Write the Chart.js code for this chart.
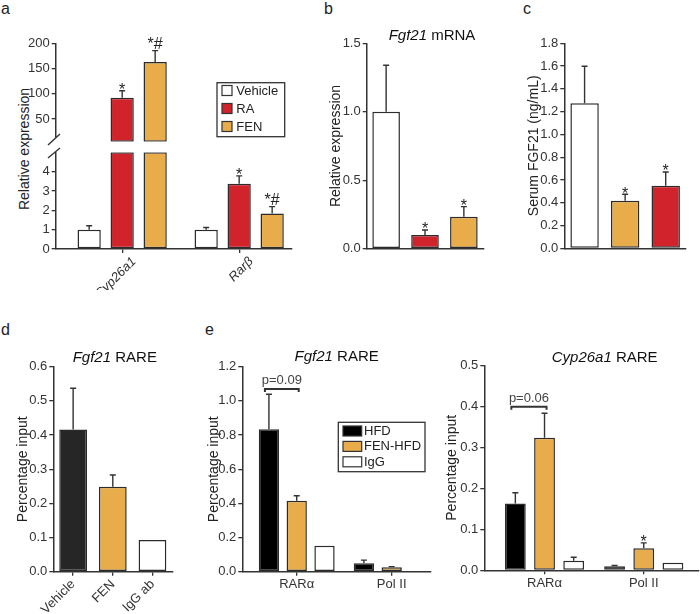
<!DOCTYPE html>
<html>
<head>
<meta charset="utf-8">
<script src="https://cdn.jsdelivr.net/npm/chart.js@4.4.1/dist/chart.umd.min.js"></script>
<style>
html, body { margin: 0; padding: 0; background: #fff; }
#fig { position: relative; width: 700px; height: 614px; overflow: hidden; font-family: 'Liberation Sans', Arial, sans-serif; color: #222; }
#fig canvas { position: absolute; }
.lbl { position: absolute; font-size: 16px; line-height: 16px; }
.ytitle { position: absolute; width: 200px; height: 16px; line-height: 16px; font-size: 14px; text-align: center; transform: rotate(-90deg); white-space: nowrap; }
</style>
</head>
<body>
<div id="fig">
  <div class="lbl" style="left:1px;top:1px">a</div>
  <div class="lbl" style="left:324px;top:1px">b</div>
  <div class="lbl" style="left:523px;top:1px">c</div>
  <div class="lbl" style="left:1px;top:322px">d</div>
  <div class="lbl" style="left:205px;top:322px">e</div>
  <div class="ytitle" style="left:-76px;top:141px">Relative expression</div>
</div>
<script>
// DATA
// a: relative expression (broken axis)
const aGenes = ['Cyp26a1', 'Rarβ'];
const aGroups = ['Vehicle', 'RA', 'FEN'];
const aVehicle = [1.0, 1.0];
const aVehicleErr = [0.2, 0.11];
const aRA = [92, 3.38];
const aRAErr = [14, 0.4];
const aFEN = [163, 1.83];
const aFENErr = [22.5, 0.36];
const aRASig = ['*', '*'];
const aFENSig = ['*#', '*#'];
const aUpperTicks = [50, 100, 150, 200];
const aLowerTicks = [0, 1, 2, 3, 4];
const aBreak = 5;

// b: Fgf21 mRNA
const bGroups = ['Vehicle', 'RA', 'FEN'];
const bMRNA = [1.0, 0.10, 0.234];
const bErr = [0.34, 0.037, 0.073];
const bSig = ['', '*', '*'];
const bTicks = [0, 0.5, 1.0, 1.5];

// c: serum FGF21
const cGroups = ['Vehicle', 'FEN', 'RA'];
const cSerum = [1.273, 0.418, 0.55];
const cErr = [0.325, 0.056, 0.12];
const cSig = ['', '*', '*'];
const cTicks = [0, 0.2, 0.4, 0.6, 0.8, 1.0, 1.2, 1.4, 1.6, 1.8];

// d: Fgf21 RARE ChIP
const dGroups = ['Vehicle', 'FEN', 'IgG ab'];
const dInput = [0.416, 0.249, 0.093];
const dErr = [0.121, 0.034, 0];
const dTicks = [0, 0.1, 0.2, 0.3, 0.4, 0.5, 0.6];

// e: RARE ChIP, HFD vs FEN-HFD
const eTargets = ['RARα', 'Pol II'];
const eSeries = ['HFD', 'FEN-HFD', 'IgG'];
const eFgfHFD = [0.834, 0.049];
const eFgfHFDErr = [0.205, 0.019];
const eFgfFEN = [0.416, 0.026];
const eFgfFENErr = [0.029, 0.004];
const eFgfIgG = [0.152, null];
const eFgfTicks = [0, 0.2, 0.4, 0.6, 0.8, 1.0, 1.2];
const eCypHFD = [0.163, 0.0098];
const eCypHFDErr = [0.026, 0.002];
const eCypFEN = [0.323, 0.054];
const eCypFENErr = [0.060, 0.013];
const eCypFENSig = ['', '*'];
const eCypIgG = [0.0235, 0.0185];
const eCypIgGErr = [0.0085, 0];
const eCypTicks = [0, 0.1, 0.2, 0.3, 0.4, 0.5];

// STYLE
const RED = '#d0232b', ORANGE = '#e8ad4a', BLACK = '#000000', DARK = '#262626', WHITE = '#ffffff';
const EDGE = '#2b2b2b', INK = '#333333';
const FONT = "'Liberation Sans', Arial, sans-serif";

Chart.defaults.font.family = FONT;
Chart.defaults.font.size = 13;
Chart.defaults.color = INK;
Chart.defaults.animation = false;
Chart.defaults.plugins.legend.display = false;
Chart.defaults.plugins.tooltip.enabled = false;

// PLUGINS
const errorBars = {
  id: 'errorBars',
  afterDatasetsDraw(chart) {
    const ctx = chart.ctx, ys = chart.scales.y;
    chart.data.datasets.forEach((ds, i) => {
      if (!ds.vals) return;
      const meta = chart.getDatasetMeta(i);
      ds.vals.forEach((v, j) => {
        if (v == null || v < ys.min || v > ys.max) return;
        const el = meta.data[j];
        if (!el) return;
        const x = el.x, y0 = ys.getPixelForValue(v);
        const e = ds.err ? ds.err[j] : 0;
        let top = y0;
        ctx.save();
        ctx.strokeStyle = INK;
        ctx.lineWidth = 1.4;
        if (e > 0) {
          top = ys.getPixelForValue(v + e);
          ctx.beginPath();
          ctx.moveTo(x, y0); ctx.lineTo(x, top);
          ctx.moveTo(x - 3, top); ctx.lineTo(x + 3, top);
          ctx.stroke();
        }
        const s = ds.sig ? ds.sig[j] : '';
        if (s) {
          ctx.fillStyle = '#222';
          ctx.font = '16px ' + FONT;
          ctx.textAlign = 'center';
          ctx.textBaseline = 'alphabetic';
          ctx.fillText(s, x, top + (s.includes('#') ? -2 : 4.5));
        }
        ctx.restore();
      });
    });
  }
};

const boxLegend = {
  id: 'boxLegend',
  afterDraw(chart, args, o) {
    if (!o.width) return;
    const ctx = chart.ctx;
    ctx.save();
    ctx.strokeStyle = INK;
    ctx.lineWidth = 1.3;
    ctx.strokeRect(o.left, o.top, o.width, o.height);
    ctx.font = '13px ' + FONT;
    ctx.textBaseline = 'middle';
    ctx.textAlign = 'left';
    chart.data.datasets.forEach((ds, i) => {
      const cy = o.top + o.rowTop + i * o.rowGap;
      ctx.fillStyle = ds.backgroundColor;
      ctx.fillRect(o.left + o.swX, cy - o.swH / 2, o.swW, o.swH);
      ctx.lineWidth = 1.2;
      ctx.strokeRect(o.left + o.swX, cy - o.swH / 2, o.swW, o.swH);
      ctx.fillStyle = '#222';
      ctx.fillText(ds.label, o.left + o.textX, cy + 0.5);
    });
    ctx.restore();
  }
};

const richTitle = {
  id: 'richTitle',
  afterDraw(chart, args, o) {
    if (!o.parts) return;
    const ctx = chart.ctx, a = chart.chartArea;
    ctx.save();
    const fonts = o.parts.map(p => (p[1] ? 'italic ' : '') + '15px ' + FONT);
    const widths = o.parts.map((p, i) => { ctx.font = fonts[i]; return ctx.measureText(p[0]).width; });
    const total = widths.reduce((s, w) => s + w, 0);
    let x = (a.left + a.right) / 2 + o.dx - total / 2;
    const y = a.top - o.dy;
    ctx.fillStyle = '#111';
    ctx.textBaseline = 'middle';
    ctx.textAlign = 'left';
    o.parts.forEach((p, i) => {
      ctx.font = fonts[i];
      ctx.fillText(p[0], x, y);
      x += widths[i];
    });
    ctx.restore();
  }
};

const bracket = {
  id: 'bracket',
  afterDraw(chart, args, o) {
    if (!o.label) return;
    const ctx = chart.ctx;
    const b1 = chart.getDatasetMeta(o.from).data[o.index];
    const b2 = chart.getDatasetMeta(o.to).data[o.index];
    const y = chart.scales.y.getPixelForValue(o.value);
    const x1 = b1.x - 4, x2 = b2.x + 2;
    ctx.save();
    ctx.strokeStyle = INK;
    ctx.lineWidth = 2;
    ctx.beginPath();
    ctx.moveTo(x1, y + 3); ctx.lineTo(x1, y); ctx.lineTo(x2, y); ctx.lineTo(x2, y + 3);
    ctx.stroke();
    ctx.fillStyle = '#444';
    ctx.font = '13px ' + FONT;
    ctx.textAlign = 'center';
    ctx.textBaseline = 'alphabetic';
    ctx.fillText(o.label, (x1 + x2) / 2, y - 5);
    ctx.restore();
  }
};

const axisBreak = {
  id: 'axisBreak',
  afterDraw(chart, args, o) {
    if (!o.mode) return;
    const ctx = chart.ctx, a = chart.chartArea;
    ctx.save();
    if (o.mode === 'upper') {
      // cut the axis line short of the bottom of the upper segment
      ctx.fillStyle = WHITE;
      ctx.fillRect(a.left - 2, a.bottom - 4, 4, 8);
    } else {
      const x = a.left, t = a.top;
      ctx.strokeStyle = INK;
      ctx.lineWidth = 1.4;
      ctx.beginPath();
      ctx.moveTo(x - 7.7, t - 7.3); ctx.lineTo(x + 4.3, t - 18.3);
      ctx.moveTo(x - 7.7, t + 5.7); ctx.lineTo(x + 4.3, t - 4.3);
      ctx.stroke();
    }
    ctx.restore();
  }
};

Chart.register(errorBars, boxLegend, richTitle, bracket, axisBreak);

// HELPERS
function yScale(min, max, ticks, dec, width, title, titlePad) {
  return {
    type: 'linear', min: min, max: max,
    afterBuildTicks: s => { s.ticks = ticks.map(v => ({ value: v })); },
    afterFit: s => { s.width = width; },
    border: { color: INK, width: 1.5 },
    grid: { drawOnChartArea: false, color: INK, lineWidth: 1.3, tickLength: 4 },
    ticks: { color: INK, padding: 2, font: { size: 13 }, callback: v => Number(v).toFixed(dec) },
    title: title
      ? { display: true, text: title, color: '#222', font: { size: 14 }, padding: { top: titlePad, bottom: 0 } }
      : { display: false }
  };
}

function xCat(height, showLabels, rot) {
  return {
    type: 'category', offset: true,
    afterFit: s => { s.height = height; },
    border: { color: INK, width: 1.5 },
    grid: { drawOnChartArea: false, offset: false, color: INK, lineWidth: 1.3, tickLength: 4, drawTicks: showLabels },
    ticks: { display: showLabels, color: INK, font: { size: 13 }, minRotation: rot, maxRotation: rot, padding: 1, autoSkip: false }
  };
}

function xLin(labels, min, max, height, rot, italic, show, shift) {
  return {
    type: 'linear', min: min, max: max, offset: false, display: show !== false,
    afterBuildTicks: s => { s.ticks = labels.map((_, i) => ({ value: i })); },
    afterFit: s => { s.height = height; },
    border: { color: INK, width: 1.5 },
    grid: { drawOnChartArea: false, offset: false, color: INK, lineWidth: 1.3, tickLength: 4 },
    ticks: {
      color: INK, font: { size: 13, style: italic ? 'italic' : 'normal' },
      minRotation: rot, maxRotation: rot, padding: 1, autoSkip: false,
      labelOffset: shift || 0,
      callback: v => labels[v]
    }
  };
}

function bars(label, color, vals, err, sig, dataFn) {
  return {
    label: label,
    data: vals.map((v, i) => ({ x: i, y: dataFn ? dataFn(v) : v })),
    vals: vals, err: err, sig: sig,
    backgroundColor: color, borderColor: EDGE, borderWidth: 1.5, borderSkipped: false
  };
}

function addChart(box, area, xHidden, config) {
  const cv = document.createElement('canvas');
  cv.width = box.w; cv.height = box.h;
  cv.style.left = box.x + 'px';
  cv.style.top = box.y + 'px';
  document.getElementById('fig').appendChild(cv);
  config.options.responsive = false;
  config.options.layout = {
    padding: {
      left: 0,
      top: area.top - box.y,
      right: box.x + box.w - area.right,
      bottom: xHidden ? box.y + box.h - area.bottom : 0
    }
  };
  return new Chart(cv, config);
}

// PANEL a, upper segment
const aUpperBox = { x: 0, y: 30, w: 300, h: 130 };
const aUpperArea = { left: 55.7, top: 43.3, right: 291.7, bottom: 141.7 };
const upper = v => (v > aBreak ? [aBreak, v] : null);
addChart(aUpperBox, aUpperArea, true, {
  type: 'bar',
  data: {
    datasets: [
      bars(aGroups[0], WHITE, aVehicle, aVehicleErr, null, upper),
      bars(aGroups[1], RED, aRA, aRAErr, aRASig, upper),
      bars(aGroups[2], ORANGE, aFEN, aFENErr, aFENSig, upper)
    ]
  },
  options: {
    datasets: { bar: { categoryPercentage: 0.846, barPercentage: 0.705 } },
    scales: {
      x: xLin(aGenes, -0.568, 1.449, 0, 45, true, false),
      y: yScale(aBreak, 200, aUpperTicks, 0, 55.7)
    },
    plugins: {
      boxLegend: { left: 217, top: 52.7, width: 67.7, height: 54, rowTop: 7.8, rowGap: 18, swX: 5, swW: 10, swH: 10, textX: 19.3 },
      axisBreak: { mode: 'upper' }
    }
  }
});

// PANEL a, lower segment
const aLowerBox = { x: 0, y: 130, w: 300, h: 160 };
const aLowerArea = { left: 55.7, top: 152.3, right: 291.7, bottom: 249 };
const lower = v => [0, Math.min(v, aBreak)];
addChart(aLowerBox, aLowerArea, false, {
  type: 'bar',
  data: {
    datasets: [
      bars(aGroups[0], WHITE, aVehicle, aVehicleErr, null, lower),
      bars(aGroups[1], RED, aRA, aRAErr, aRASig, lower),
      bars(aGroups[2], ORANGE, aFEN, aFENErr, aFENSig, lower)
    ]
  },
  options: {
    datasets: { bar: { categoryPercentage: 0.846, barPercentage: 0.705 } },
    scales: {
      x: xLin(aGenes, -0.568, 1.449, 41, 45, true, true, 12),
      y: yScale(0, aBreak, aLowerTicks, 0, 55.7)
    },
    plugins: { axisBreak: { mode: 'lower' } }
  }
});

// PANEL b
addChart({ x: 320, y: 30, w: 170, h: 230 }, { left: 366.7, top: 43.3, right: 483.3, bottom: 248.7 }, false, {
  type: 'bar',
  data: {
    labels: bGroups,
    datasets: [{
      data: bMRNA, vals: bMRNA, err: bErr, sig: bSig,
      backgroundColor: [WHITE, RED, ORANGE], borderColor: EDGE, borderWidth: 1.5, borderSkipped: false
    }]
  },
  options: {
    datasets: { bar: { categoryPercentage: 0.71, barPercentage: 1 } },
    scales: {
      x: xCat(11.3, false, 0),
      y: yScale(0, 1.5, bTicks, 1, 46.7, 'Relative expression', 7.3)
    },
    plugins: { richTitle: { parts: [['Fgf21', true], [' mRNA', false]], dx: 7, dy: 7.3 } }
  }
});

// PANEL c
addChart({ x: 520, y: 30, w: 180, h: 230 }, { left: 564.3, top: 43.3, right: 686, bottom: 248.3 }, false, {
  type: 'bar',
  data: {
    labels: cGroups,
    datasets: [{
      data: cSerum, vals: cSerum, err: cErr, sig: cSig,
      backgroundColor: [WHITE, ORANGE, RED], borderColor: EDGE, borderWidth: 1.5, borderSkipped: false
    }]
  },
  options: {
    datasets: { bar: { categoryPercentage: 0.70, barPercentage: 1 } },
    scales: {
      x: xCat(11.7, false, 0),
      y: yScale(0, 1.8, cTicks, 1, 44.3, 'Serum FGF21 (ng/mL)', 5.6)
    }
  }
});

// PANEL d
addChart({ x: 0, y: 340, w: 185, h: 274 }, { left: 53.3, top: 366.7, right: 172.3, bottom: 571.7 }, false, {
  type: 'bar',
  data: {
    labels: dGroups,
    datasets: [{
      data: dInput, vals: dInput, err: dErr,
      backgroundColor: [DARK, ORANGE, WHITE], borderColor: EDGE, borderWidth: 1.5, borderSkipped: false
    }]
  },
  options: {
    datasets: { bar: { categoryPercentage: 0.70, barPercentage: 1 } },
    scales: {
      x: xCat(42.3, true, 45),
      y: yScale(0, 0.6, dTicks, 1, 53.3, 'Percentage input', 14.9)
    },
    plugins: { richTitle: { parts: [['Fgf21', true], [' RARE', false]], dx: 2, dy: 8.7 } }
  }
});

// PANEL e, Fgf21 RARE
addChart({ x: 195, y: 340, w: 245, h: 260 }, { left: 242.3, top: 366.7, right: 431, bottom: 571.7 }, false, {
  type: 'bar',
  data: {
    datasets: [
      bars(eSeries[0], BLACK, eFgfHFD, eFgfHFDErr, null),
      bars(eSeries[1], ORANGE, eFgfFEN, eFgfFENErr, null),
      bars(eSeries[2], WHITE, eFgfIgG, null, null)
    ]
  },
  options: {
    datasets: { bar: { categoryPercentage: 0.878, barPercentage: 0.73 } },
    scales: {
      x: xLin(eTargets, -0.573, 1.414, 28.3, 0, false),
      y: yScale(0, 1.2, eFgfTicks, 1, 47.3, 'Percentage input', 10.6)
    },
    plugins: {
      richTitle: { parts: [['Fgf21', true], [' RARE', false]], dx: 0, dy: 10 },
      boxLegend: { left: 143.3, top: 82.3, width: 86.7, height: 49.4, rowTop: 8.7, rowGap: 15.4, swX: 4.7, swW: 18.7, swH: 10, textX: 25.7 },
      bracket: { from: 0, to: 1, index: 0, value: 1.07, label: 'p=0.09' }
    }
  }
});

// PANEL e, Cyp26a1 RARE
addChart({ x: 440, y: 340, w: 260, h: 260 }, { left: 484.3, top: 365.3, right: 699, bottom: 570.3 }, false, {
  type: 'bar',
  data: {
    datasets: [
      bars(eSeries[0], BLACK, eCypHFD, eCypHFDErr, null),
      bars(eSeries[1], ORANGE, eCypFEN, eCypFENErr, eCypFENSig),
      bars(eSeries[2], WHITE, eCypIgG, eCypIgGErr, null)
    ]
  },
  options: {
    datasets: { bar: { categoryPercentage: 0.882, barPercentage: 0.713 } },
    scales: {
      x: xLin(eTargets, -0.607, 1.557, 29.7, 0, false),
      y: yScale(0, 0.5, eCypTicks, 1, 44.3, 'Percentage input', 3.3)
    },
    plugins: {
      richTitle: { parts: [['Cyp26a1', true], [' RARE', false]], dx: 13, dy: 7.6 },
      bracket: { from: 0, to: 1, index: 0, value: 0.399, label: 'p=0.06' }
    }
  }
});
</script>
</body>
</html>
